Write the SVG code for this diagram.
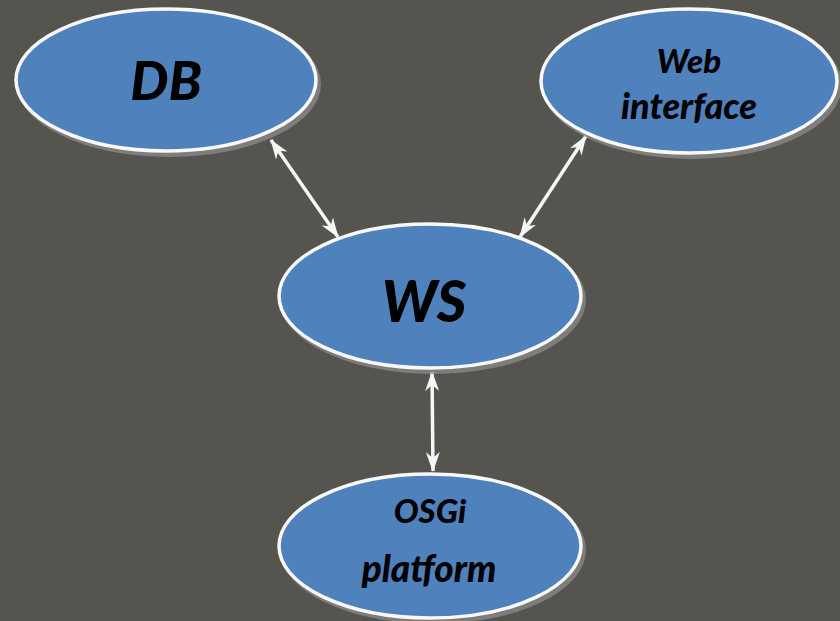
<svg xmlns="http://www.w3.org/2000/svg" width="840" height="621" viewBox="0 0 840 621">
<defs>
<marker id="ah" viewBox="0 0 20 14" refX="19" refY="7" markerWidth="20" markerHeight="14" markerUnits="userSpaceOnUse" orient="auto-start-reverse">
<path d="M0,0 L20,7 L0,14 L6,7 Z" fill="#f4f6f8"/>
</marker>
</defs>
<style>
.bg{fill:#56544e}
.shadow{fill:#8e8e8e;opacity:0.7}
.node{fill:#4f81bd;stroke:#f8f8f8;stroke-width:3.5}
.lbl{font-family:Lato,"Open Sans",sans-serif;font-weight:900;font-style:italic;fill:#000;text-anchor:middle}
.conn{stroke:#f4f6f8;stroke-width:3.5;fill:none;marker-start:url(#ah);marker-end:url(#ah)}
</style>
<rect class="bg" width="840" height="621"/>
<g id="connectors">
<line class="conn" x1="271" y1="140" x2="338" y2="237"/>
<line class="conn" x1="586" y1="136" x2="520" y2="237"/>
<line class="conn" x1="432" y1="372" x2="433" y2="471"/>
</g>
<g id="db">
<ellipse class="shadow" cx="169" cy="84" rx="152" ry="73"/>
<ellipse class="node" cx="166" cy="80" rx="150" ry="71"/>
<text class="lbl" x="166" y="100" font-size="54">DB</text>
</g>
<g id="web">
<ellipse class="shadow" cx="692" cy="85" rx="150" ry="74"/>
<ellipse class="node" cx="689" cy="81" rx="148" ry="72"/>
<text class="lbl" x="689" y="73" font-size="33">Web</text>
<text class="lbl" x="689" y="119" font-size="36">interface</text>
</g>
<g id="ws">
<ellipse class="shadow" cx="433" cy="300" rx="153" ry="74"/>
<ellipse class="node" cx="430" cy="296" rx="151" ry="72"/>
<text class="lbl" x="424" y="322" font-size="57">WS</text>
</g>
<g id="osgi">
<ellipse class="shadow" cx="433" cy="550" rx="153" ry="74"/>
<ellipse class="node" cx="430" cy="546" rx="151" ry="72"/>
<text class="lbl" x="430" y="523" font-size="33">OSGi</text>
<text class="lbl" x="429" y="582" font-size="37">platform</text>
</g>
</svg>
